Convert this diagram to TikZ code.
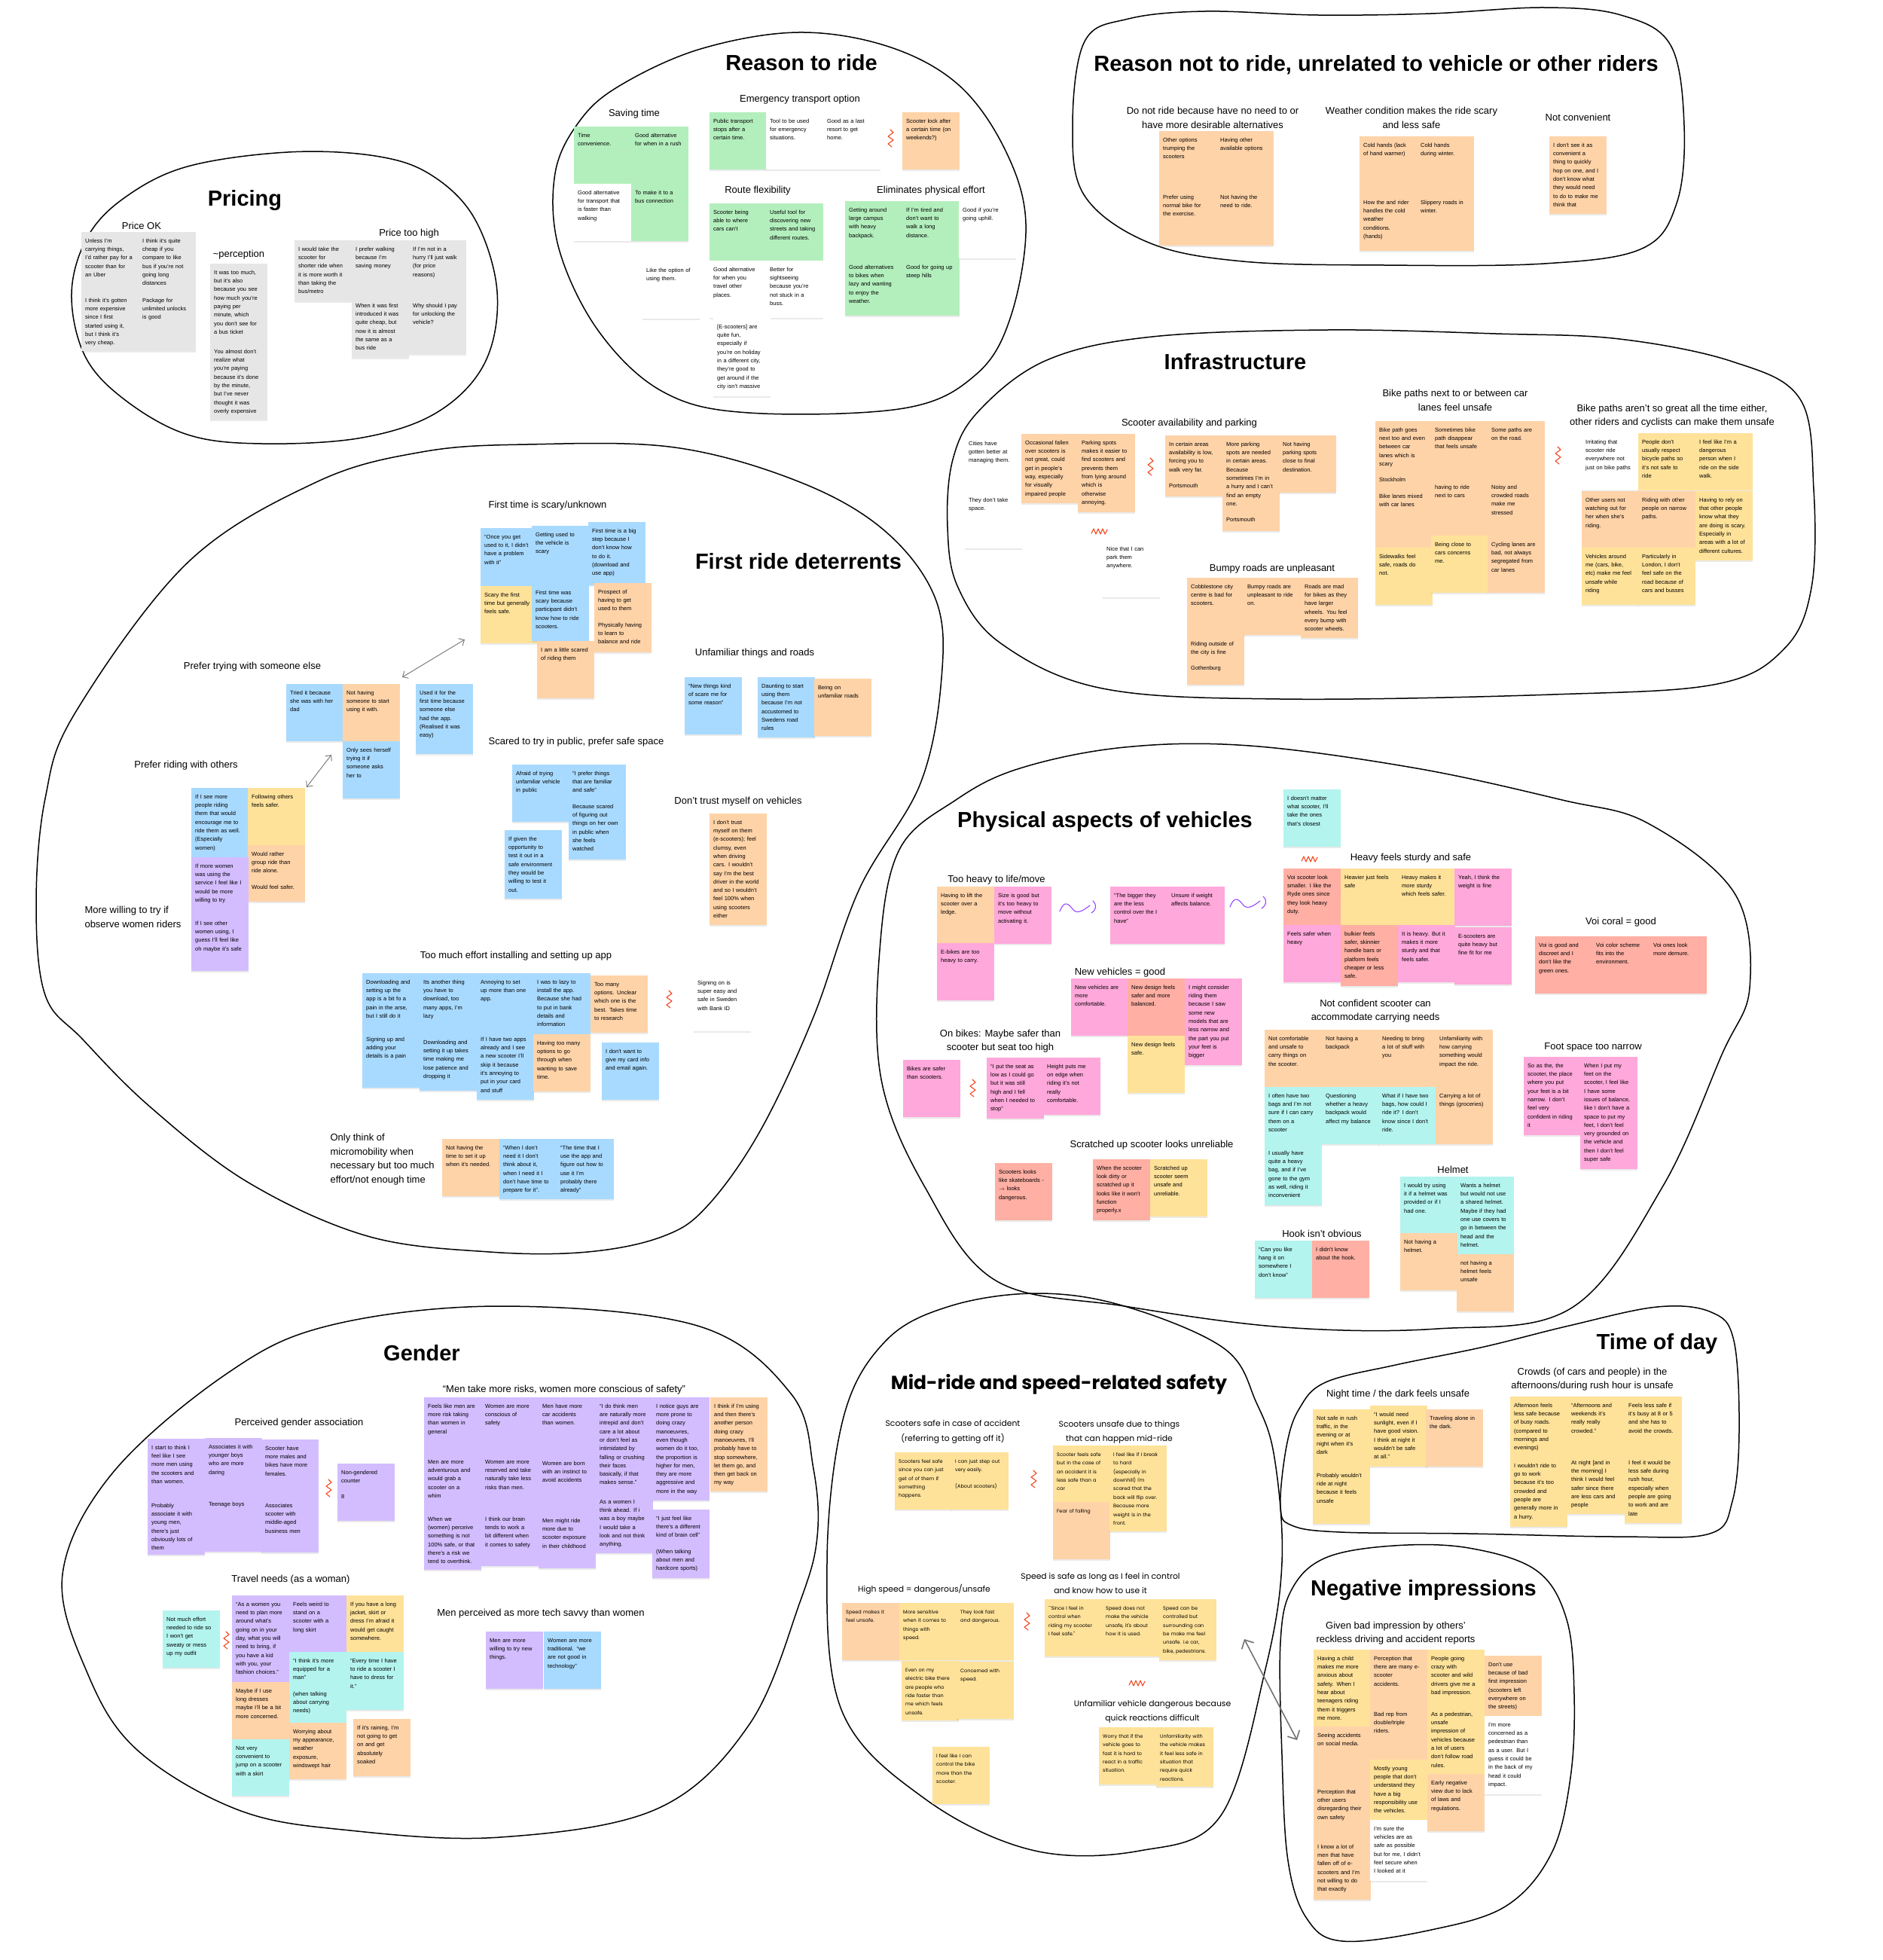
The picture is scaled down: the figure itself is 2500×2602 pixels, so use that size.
\documentclass[tikz,border=0pt]{standalone}
\usepackage{fontspec}
\setmainfont{Liberation Sans}
\newfontfamily\popfont{Poppins}
\usetikzlibrary{arrows.meta, shadows}

\definecolor{stgreen}{HTML}{B3EFBD}
\definecolor{storange}{HTML}{FFD3A8}
\definecolor{stgray}{HTML}{E6E6E6}
\definecolor{styellow}{HTML}{FFE299}
\definecolor{stblue}{HTML}{A8DAFF}
\definecolor{stpurple}{HTML}{D3BDFF}
\definecolor{stpink}{HTML}{FFA8DB}
\definecolor{stcoral}{HTML}{FFAFA3}
\definecolor{stteal}{HTML}{B3F4EF}
\definecolor{scribred}{HTML}{F24822}
\definecolor{scribpurple}{HTML}{9747FF}

\begin{document}
\begin{tikzpicture}[
        x=1pt, y=-1pt,
        blob/.style={draw=black, line width=1.5pt},
        ttl/.style={font=\fontsize{29}{34}\selectfont\bfseries},
        mttl/.style={font=\popfont\fontsize{25}{30}\selectfont\bfseries},
        sub/.style={font=\fontsize{13}{18.7}\selectfont, align=center},
        psub/.style={font=\popfont\fontsize{10.8}{19.4}\selectfont, align=center},
        note/.style={rectangle, anchor=north west, text width=66pt, inner xsep=5pt, inner ysep=7pt,
            text height=7pt, text depth=#1-21pt, align=left, font=\fontsize{7.5}{11.3}\selectfont,
            drop shadow={shadow xshift=0pt, shadow yshift=-1.3pt, opacity=0.16}},
        note/.default=76pt,
        pnote/.style={note=#1, font=\popfont\fontsize{6.5}{11.4}\selectfont},
        pnote/.default=76pt,
        link/.style={<->, >={Straight Barb[length=6pt, width=11pt]}, draw=black!55, line width=0.9pt},
        scribble/.style={draw=scribred, line width=1.1pt, line join=round, line cap=round},
        zigv/.pic={\draw[scribble] (0,0) -- (4,4) -- (-3,9) -- (4,14) -- (-3,19) -- (2,23);},
        zigw/.pic={\draw[scribble] (0,6) -- (3,0) -- (6,7) -- (9,0) -- (12,7) -- (15,0) -- (18,7) -- (21,1);},
        wave/.pic={\draw[scribble, draw=scribpurple] (0,10) .. controls (6,-6) and (12,0) .. (18,8) .. controls (24,14) and (32,8) .. (40,2);
                   \draw[scribble, draw=scribpurple] (44,-4) .. controls (50,2) and (48,8) .. (42,12);}
    ]
    \useasboundingbox (0,0) rectangle (2500,2602);
    \fill[white] (0,0) rectangle (2500,2602);

    % Group outlines
    \draw[blob] plot[smooth cycle, tension=0.6] coordinates {(95,390) (116,315) (166,262) (249,221) (382,202) (498,207) (572,232) (630,290) (660,387) (644,481) (581,547) (481,581) (348,589) (249,577) (166,531) (113,473)};
    \draw[blob] plot[smooth cycle, tension=0.6] coordinates {(1060,43) (1180,62) (1273,113) (1335,200) (1362,297) (1342,420) (1296,497) (1200,542) (994,548) (880,520) (795,440) (742,330) (737,230) (770,160) (824,113) (930,65)};
    \draw[blob] plot[smooth cycle, tension=0.6] coordinates {(1440,55) (1498,25) (1600,15) (1750,20) (1900,18) (2050,10) (2152,20) (2218,60) (2236,167) (2226,270) (2180,330) (2050,350) (1838,352) (1650,347) (1525,322) (1440,260) (1424,167)};
    \draw[blob] plot[smooth cycle, tension=0.6] coordinates {(1258,700) (1265,610) (1300,545) (1390,478) (1530,447) (1762,438) (1986,443) (2150,450) (2300,480) (2390,530) (2408,650) (2405,780) (2370,860) (2280,908) (2061,922) (1700,928) (1464,914) (1330,855) (1272,780)};
    \draw[blob] plot[smooth cycle, tension=0.6] coordinates {(100,946) (249,747) (420,640) (560,600) (700,590) (896,594) (1062,640) (1175,705) (1242,795) (1250,900) (1222,1040) (1141,1180) (1080,1350) (1010,1500) (940,1600) (881,1641) (780,1662) (650,1662) (488,1641) (330,1570) (200,1470) (110,1380) (60,1321) (48,1200) (60,1060)};
    \draw[blob] plot[smooth cycle, tension=0.6] coordinates {(1354,1020) (1493,992) (1659,990) (1881,1020) (2074,1062) (2188,1093) (2303,1186) (2323,1311) (2286,1400) (2207,1576) (2087,1736) (1908,1764) (1705,1762) (1493,1734) (1322,1700) (1228,1576) (1170,1433) (1168,1261) (1194,1128) (1269,1062)};
    \draw[blob] plot[smooth cycle, tension=0.6] coordinates {(149,1956) (299,1825) (436,1760) (664,1734) (926,1760) (1050,1850) (1080,1950) (1085,2040) (1062,2127) (995,2289) (873,2401) (664,2439) (465,2430) (317,2403) (182,2323) (116,2221) (83,2090)};
    \draw[blob] plot[smooth cycle, tension=0.6] coordinates {(1120,1881) (1176,1780) (1261,1734) (1377,1717) (1493,1734) (1625,1790) (1668,1862) (1692,1935) (1702,2074) (1680,2216) (1621,2410) (1513,2457) (1370,2456) (1228,2388) (1118,2272) (1098,2074)};
    \draw[blob] plot[smooth cycle, tension=0.6] coordinates {(1700,2000) (1708,1920) (1725,1870) (1760,1835) (1853,1812) (1970,1788) (2083,1760) (2200,1735) (2272,1742) (2302,1780) (2309,1900) (2300,1993) (2270,2036) (2150,2040) (1950,2036) (1780,2034) (1715,2025)};
    \draw[blob] plot[smooth cycle, tension=0.6] coordinates {(1700,2180) (1715,2110) (1760,2068) (1850,2052) (1950,2055) (2040,2085) (2080,2150) (2090,2250) (2085,2360) (2060,2460) (2000,2530) (1900,2562) (1783,2577) (1735,2547) (1710,2470) (1702,2330)};

    % Pricing
    \node[ttl] (pricing) at (325,266) {Pricing};
    \node[sub] (priceok) at (188,300) {Price OK};
    \node[sub] (perception) at (317,338) {\textasciitilde perception};
    \node[sub] (pricehigh) at (543,310) {Price too high};
    \node[note=79pt, fill=stgray] (p1) at (108,308) {Unless I'm\\carrying things,\\I'd rather pay for a\\scooter than for\\an Uber};
    \node[note=79pt, fill=stgray] (p2) at (108,387) {I think it's gotten\\more expensive\\since I first\\started using it,\\but I think it's\\very cheap.};
    \node[note=79pt, fill=stgray] (p3) at (184,308) {I think it's quite\\cheap if you\\compare to like\\bus if you're not\\going long\\distances};
    \node[note=79pt, fill=stgray] (p4) at (184,387) {Package for\\unlimited unlocks\\is good};
    \node[note=105pt, fill=stgray] (p5) at (279,350) {It was too much,\\but it's also\\because you see\\how much you're\\paying per\\minute, which\\you don't see for\\a bus ticket};
    \node[note=102pt, fill=stgray] (p6) at (279,455) {You almost don't\\realize what\\you're paying\\because it's done\\by the minute,\\but I've never\\thought it was\\overly expensive};
    \node[note=81pt, fill=stgray] (p7) at (391,319) {I would take the\\scooter for\\shorter ride when\\it is more worth it\\than taking the\\bus/metro};
    \node[note=75pt, fill=stgray] (p8) at (467,319) {I prefer walking\\because I'm\\saving money};
    \node[note=81pt, fill=stgray] (p9) at (467,394) {When it was first\\introduced it was\\quite cheap, but\\now it is almost\\the same as a\\bus ride};
    \node[note=75pt, fill=stgray] (p10) at (543,319) {If I'm not in a\\hurry I'll just walk\\(for price\\reasons)};
    \node[note, fill=stgray] (p11) at (543,394) {Why should I pay\\for unlocking the\\vehicle?};

    % Reason to ride
    \node[ttl] (rtr) at (1064,83) {Reason to ride};
    \node[sub] (saving) at (842,151) {Saving time};
    \node[sub] (emergency) at (1062,132) {Emergency transport option};
    \node[sub] (route) at (1006,253) {Route flexibility};
    \node[sub] (effort) at (1236,253) {Eliminates physical effort};
    \node[note, fill=stgreen] (r1) at (762,168) {Time\\convenience.};
    \node[note, fill=stgreen] (r2) at (838,168) {Good alternative\\for when in a rush};
    \node[note, fill=white] (r3) at (762,244) {Good alternative\\for transport that\\is faster than\\walking};
    \node[note, fill=stgreen] (r4) at (838,244) {To make it to a\\bus connection};
    \node[note, fill=white] (r5) at (853,347) {Like the option of\\using them.};
    \node[note, fill=stgreen] (r6) at (942,149) {Public transport\\stops after a\\certain time.};
    \node[note, fill=white] (r7) at (1017,149) {Tool to be used\\for emergency\\situations.};
    \node[note, fill=white] (r8) at (1093,149) {Good as a last\\resort to get\\home.};
    \node[note, fill=storange] (r9) at (1198,149) {Scooter lock after\\a certain time (on\\weekends?)};
    \node[note, fill=stgreen] (r10) at (942,270) {Scooter being\\able to where\\cars can't};
    \node[note, fill=stgreen] (r11) at (1017,270) {Useful tool for\\discovering new\\streets and taking\\different routes.};
    \node[note, fill=white] (r12) at (942,346) {Good alternative\\for when you\\travel other\\places.};
    \node[note, fill=white] (r13) at (1017,346) {Better for\\sightseeing\\because you're\\not stuck in a\\buss.};
    \node[note=104pt, fill=white] (r14) at (947,422) {[E-scooters] are\\quite fun,\\especially if\\you're on holiday\\in a different city,\\they're good to\\get around if the\\city isn't massive};
    \node[note, fill=stgreen] (r15) at (1122,267) {Getting around\\large campus\\with heavy\\backpack.};
    \node[note, fill=stgreen] (r16) at (1198,267) {If I'm tired and\\don't want to\\walk a long\\distance.};
    \node[note, fill=white] (r17) at (1273,267) {Good if you're\\going uphill.};
    \node[note, fill=stgreen] (r18) at (1122,343) {Good alternatives\\to bikes when\\lazy and wanting\\to enjoy the\\weather.};
    \node[note, fill=stgreen] (r19) at (1198,343) {Good for going up\\steep hills};
    \pic at (1182,172) {zigv};

    % Reason not to ride
    \node[ttl] (rnr) at (1827,86) {Reason not to ride, unrelated to vehicle or other riders};
    \node[sub] (noneed) at (1610,156) {Do not ride because have no need to or\\have more desirable alternatives};
    \node[sub] (weather) at (1874,156) {Weather condition makes the ride scary\\and less safe};
    \node[sub] (notconv) at (2095,156) {Not convenient};
    \node[note, fill=storange] (n1) at (1539,174) {Other options\\trumping the\\scooters};
    \node[note, fill=storange] (n2) at (1615,174) {Having other\\available options};
    \node[note, fill=storange] (n3) at (1539,250) {Prefer using\\normal bike for\\the exercise.};
    \node[note, fill=storange] (n4) at (1615,250) {Not having the\\need to ride.};
    \node[note, fill=storange] (n5) at (1805,181) {Cold hands (lack\\of hand warmer)};
    \node[note, fill=storange] (n6) at (1881,181) {Cold hands\\during winter.};
    \node[note, fill=storange] (n7) at (1805,257) {How the and rider\\handles the cold\\weather\\conditions.\\(hands)};
    \node[note, fill=storange] (n8) at (1881,257) {Slippery roads in\\winter.};
    \node[note=103pt, fill=storange] (n9) at (2057,181) {I don't see it as\\convenient a\\thing to quickly\\hop on one, and I\\don't know what\\they would need\\to do to make me\\think that};

    % Infrastructure
    \node[ttl] (infra) at (1640,480) {Infrastructure};
    \node[sub] (avail) at (1579,562) {Scooter availability and parking};
    \node[sub] (bikelanes) at (1932,531) {Bike paths next to or between car\\lanes feel unsafe};
    \node[sub] (otherriders) at (2220,552) {Bike paths aren't so great all the time either,\\other riders and cyclists can make them unsafe};
    \node[sub] (bumpy) at (1689,755) {Bumpy roads are unpleasant};
    \node[note, fill=white] (i1) at (1281,577) {Cities have\\gotten better at\\managing them.};
    \node[note, fill=white] (i2) at (1281,652) {They don't take\\space.};
    \node[note=92pt, fill=storange] (i3) at (1356,576) {Occasional fallen\\over scooters is\\not great, could\\get in people's\\way, especially\\for visually\\impaired people};
    \node[note=104pt, fill=storange] (i4) at (1431,576) {Parking spots\\makes it easier to\\find scooters and\\prevents them\\from lying around\\which is\\otherwise\\annoying.};
    \node[note=81pt, fill=storange] (i5) at (1547,578) {In certain areas\\availability is low,\\forcing you to\\walk very far.\\[10pt]Portsmouth};
    \node[note=127pt, fill=storange] (i6) at (1623,578) {More parking\\spots are needed\\in certain areas.\\Because\\sometimes I'm in\\a hurry and I can't\\find an empty\\one.\\[10pt]Portsmouth};
    \node[note, fill=storange] (i7) at (1698,578) {Not having\\parking spots\\close to final\\destination.};
    \node[note, fill=white] (i8) at (1464,717) {Nice that I can\\park them\\anywhere.};
    \node[note, fill=storange] (i9) at (1576,767) {Cobblestone city\\centre is bad for\\scooters.};
    \node[note=66pt, fill=storange] (i10) at (1576,843) {Riding outside of\\the city is fine\\[10pt]Gothenburg};
    \node[note, fill=storange] (i11) at (1651,767) {Bumpy roads are\\unpleasant to ride\\on.};
    \node[note=80pt, fill=storange] (i12) at (1727,767) {Roads are mad\\for bikes as they\\have larger\\wheels. You feel\\every bump with\\scooter wheels.};
    \node[note=168pt, fill=storange] (i13) at (1826,559) {Bike path goes\\next too and even\\between car\\lanes which is\\scary\\[10pt]Stockholm\\[10pt]Bike lanes mixed\\with car lanes};
    \node[note, fill=styellow] (i14) at (1826,727) {Sidewalks feel\\safe, roads do\\not.};
    \node[note, fill=storange] (i15) at (1900,559) {Sometimes bike\\path disappear\\that feels unsafe};
    \node[note, fill=storange] (i16) at (1900,635) {having to ride\\next to cars};
    \node[note, fill=styellow] (i17) at (1900,711) {Being close to\\cars concerns\\me.};
    \node[note, fill=storange] (i18) at (1975,559) {Some paths are\\on the road.};
    \node[note, fill=storange] (i19) at (1975,635) {Noisy and\\crowded roads\\make me\\stressed};
    \node[note, fill=storange] (i20) at (1975,711) {Cycling lanes are\\bad, not always\\segregated from\\car lanes};
    \node[note, fill=white] (i21) at (2100,575) {Irritating that\\scooter ride\\everywhere not\\just on bike paths};
    \node[note, fill=styellow] (i22) at (2175,575) {People don't\\usually respect\\bicycle paths so\\it's not safe to\\ride};
    \node[note, fill=styellow] (i23) at (2251,575) {I feel like I'm a\\dangerous\\person when I\\ride on the side\\walk.};
    \node[note, fill=storange] (i24) at (2100,652) {Other users not\\watching out for\\her when she's\\riding.};
    \node[note, fill=storange] (i25) at (2175,652) {Riding with other\\people on narrow\\paths.};
    \node[note=92pt, fill=styellow] (i26) at (2251,652) {Having to rely on\\that other people\\know what they\\are doing is scary.\\Especially in\\areas with a lot of\\different cultures.};
    \node[note, fill=styellow] (i27) at (2100,727) {Vehicles around\\me (cars, bike,\\etc) make me feel\\unsafe while\\riding};
    \node[note, fill=styellow] (i28) at (2175,727) {Particularly in\\London, I don't\\feel safe on the\\road because of\\cars and busses};
    \pic at (1527,608) {zigv};
    \pic at (1449,702) {zigw};
    \pic at (2068,593) {zigv};

    % First ride deterrents
    \node[ttl] (frd) at (1060,745) {First ride deterrents};
    \node[sub] (firsttime) at (727,671) {First time is scary/unknown};
    \node[sub] (someone) at (335,885) {Prefer trying with someone else};
    \node[sub] (unfamiliar) at (1002,867) {Unfamiliar things and roads};
    \node[sub] (public) at (765,985) {Scared to try in public, prefer safe space};
    \node[sub] (others) at (247,1016) {Prefer riding with others};
    \node[sub] (trust) at (980,1064) {Don't trust myself on vehicles};
    \node[sub, anchor=west, align=left] (women) at (109,1217) {More willing to try if\\observe women riders};
    \node[sub] (effortapp) at (685,1269) {Too much effort installing and setting up app};
    \node[sub, anchor=west, align=left] (onlythink) at (435,1539) {Only think of\\micromobility when\\necessary but too much\\effort/not enough time};
    \node[note=77pt, fill=stblue] (f1) at (638,701) {``Once you get\\used to it, I didn't\\have a problem\\with it''};
    \node[note=77pt, fill=stblue] (f2) at (706,698) {Getting used to\\the vehicle is\\scary};
    \node[note=84pt, fill=stblue] (f3) at (781,693) {First time is a big\\step because I\\don't know how\\to do it.\\(download and\\use app)};
    \node[note, fill=styellow] (f4) at (638,778) {Scary the first\\time but generally\\feels safe.};
    \node[note, fill=stblue] (f5) at (706,775) {First time was\\scary because\\participant didn't\\know how to ride\\scooters.};
    \node[note=92pt, fill=storange] (f6) at (789,774) {Prospect of\\having to get\\used to them\\[10pt]Physically having\\to learn to\\balance and ride};
    \node[note, fill=storange] (f7) at (713,851) {I am a little scared\\of riding them};
    \node[note, fill=stblue] (f8) at (380,908) {Tried it because\\she was with her\\dad};
    \node[note, fill=storange] (f9) at (455,908) {Not having\\someone to start\\using it with.};
    \node[note, fill=stblue] (f10) at (455,984) {Only sees herself\\trying it if\\someone asks\\her to};
    \node[note=93pt, fill=stblue] (f11) at (552,908) {Used it for the\\first time because\\someone else\\had the app.\\(Realised it was\\easy)};
    \node[note=92pt, fill=stblue] (f12) at (254,1046) {If I see more\\people riding\\them that would\\encourage me to\\ride them as well.\\(Especially\\women)};
    \node[note, fill=styellow] (f13) at (329,1046) {Following others\\feels safer.};
    \node[note=75pt, fill=storange] (f14) at (329,1122) {Would rather\\group ride than\\ride alone.\\[10pt]Would feel safer.};
    \node[note, fill=stpurple] (f15) at (254,1138) {If more women\\was using the\\service I feel like I\\would be more\\willing to try};
    \node[note=75pt, fill=stpurple] (f16) at (254,1214) {If I see other\\women using, I\\guess I'll feel like\\oh maybe it's safe};
    \node[note, fill=stblue] (f17) at (680,1015) {Afraid of trying\\unfamiliar vehicle\\in public};
    \node[note=126pt, fill=stblue] (f18) at (755,1015) {``I prefer things\\that are familiar\\and safe''\\[10pt]Because scared\\of figuring out\\things on her own\\in public when\\she feels\\watched};
    \node[note=91pt, fill=stblue] (f19) at (670,1102) {If given the\\opportunity to\\test it out in a\\safe environment\\they would be\\willing to test it\\out.};
    \node[note, fill=stblue] (f20) at (909,899) {``New things kind\\of scare me for\\some reason''};
    \node[note=80pt, fill=stblue] (f21) at (1006,899) {Daunting to start\\using them\\because I'm not\\accustomed to\\Swedens road\\rules};
    \node[note, fill=storange] (f22) at (1081,901) {Being on\\unfamiliar roads};
    \node[note=148pt, fill=storange] (f23) at (942,1080) {I don't trust\\myself on them\\(e-scooters); feel\\clumsy, even\\when driving\\cars. I wouldn't\\say I'm the best\\driver in the world\\and so I wouldn't\\feel 100\% when\\using scooters\\either};
    \node[note, fill=stblue] (f24) at (481,1292) {Downloading and\\setting up the\\app is a bit fo a\\pain in the arse,\\but I still do it};
    \node[note, fill=stblue] (f25) at (481,1368) {Signing up and\\adding your\\details is a pain};
    \node[note=80pt, fill=stblue] (f26) at (557,1292) {Its another thing\\you have to\\download, too\\many apps, I'm\\lazy};
    \node[note, fill=stblue] (f27) at (557,1372) {Downloading and\\setting it up takes\\time making me\\lose patience and\\dropping it};
    \node[note, fill=stblue] (f28) at (633,1292) {Annoying to set\\up more than one\\app.};
    \node[note=92pt, fill=stblue] (f29) at (633,1368) {If I have two apps\\already and I see\\a new scooter I'll\\skip it because\\it's annoying to\\put in your card\\and stuff};
    \node[note=81pt, fill=stblue] (f30) at (708,1292) {I was to lazy to\\install the app.\\Because she had\\to put in bank\\details and\\information};
    \node[note, fill=storange] (f31) at (708,1373) {Having too many\\options to go\\through when\\wanting to save\\time.};
    \node[note, fill=storange] (f32) at (784,1295) {Too many\\options. Unclear\\which one is the\\best. Takes time\\to research};
    \node[note, fill=stblue] (f33) at (799,1384) {I don't want to\\give my card info\\and email again.};
    \node[note, fill=white] (f34) at (921,1293) {Signing on is\\super easy and\\safe in Sweden\\with Bank ID};
    \node[note, fill=storange] (f35) at (587,1512) {Not having the\\time to set it up\\when it's needed.};
    \node[note=80pt, fill=stblue] (f36) at (663,1512) {``When I don't\\need it I don't\\think about it,\\when I need it I\\don't have time to\\prepare for it''.};
    \node[note=80pt, fill=stblue] (f37) at (739,1512) {``The time that I\\use the app and\\figure out how to\\use it I'm\\probably there\\already''};
    \coordinate (tryA) at (617,849);
    \coordinate (tryB) at (534,899);
    \coordinate (ridA) at (440,1002);
    \coordinate (ridB) at (407,1045);
    \draw[link] (tryA) -- (tryB);
    \draw[link] (ridA) -- (ridB);
    \pic at (888,1315) {zigv};

    % Physical aspects of vehicles
    \node[ttl] (phys) at (1467,1091) {Physical aspects of vehicles};
    \node[sub] (tooheavy) at (1323,1168) {Too heavy to life/move};
    \node[sub] (sturdy) at (1873,1139) {Heavy feels sturdy and safe};
    \node[sub] (voi) at (2152,1224) {Voi coral = good};
    \node[sub] (newveh) at (1487,1291) {New vehicles = good};
    \node[sub] (carry) at (1826,1342) {Not confident scooter can\\accommodate carrying needs};
    \node[sub] (onbikes) at (1328,1382) {On bikes: Maybe safer than\\scooter but seat too high};
    \node[sub] (foot) at (2115,1390) {Foot space too narrow};
    \node[sub] (scratched) at (1529,1520) {Scratched up scooter looks unreliable};
    \node[sub] (hook) at (1755,1638) {Hook isn't obvious};
    \node[sub] (helmet) at (1929,1553) {Helmet};
    \node[note, fill=stteal] (v1) at (1704,1048) {I doesn't matter\\what scooter, I'll\\take the ones\\that's closest};
    \node[note, fill=storange] (v2) at (1244,1177) {Having to lift the\\scooter over a\\ledge.};
    \node[note, fill=stpink] (v3) at (1320,1177) {Size is good but\\it's too heavy to\\move without\\activating it.};
    \node[note, fill=stpink] (v4) at (1244,1252) {E-bikes are too\\heavy to carry.};
    \node[note, fill=stpink] (v5) at (1474,1177) {``The bigger they\\are the less\\control over the I\\have''};
    \node[note, fill=stpink] (v6) at (1550,1177) {Unsure if weight\\affects balance.};
    \node[note, fill=stcoral] (v7) at (1704,1153) {Voi scooter look\\smaller. I like the\\Ryde ones since\\they look heavy\\duty.};
    \node[note, fill=styellow] (v8) at (1780,1153) {Heavier just feels\\safe};
    \node[note, fill=styellow] (v9) at (1856,1153) {Heavy makes it\\more sturdy\\which feels safer.};
    \node[note, fill=stpink] (v10) at (1931,1153) {Yeah, I think the\\weight is fine};
    \node[note, fill=stpink] (v11) at (1704,1228) {Feels safer when\\heavy};
    \node[note=81pt, fill=stcoral] (v12) at (1780,1228) {bulkier feels\\safer, skinnier\\handle bars or\\platform feels\\cheaper or less\\safe.};
    \node[note, fill=stpink] (v13) at (1856,1228) {It is heavy. But it\\makes it more\\sturdy and that\\feels safer.};
    \node[note, fill=stpink] (v14) at (1931,1231) {E-scooters are\\quite heavy but\\fine fit for me};
    \node[note, fill=stcoral] (v15) at (2038,1243) {Voi is good and\\discreet and I\\don't like the\\green ones.};
    \node[note, fill=stcoral] (v16) at (2114,1243) {Voi color scheme\\fits into the\\environment.};
    \node[note, fill=stcoral] (v17) at (2190,1243) {Voi ones look\\more demure.};
    \node[note, fill=stpink] (v18) at (1422,1299) {New vehicles are\\more\\comfortable.};
    \node[note, fill=stcoral] (v19) at (1497,1299) {New design feels\\safer and more\\balanced.};
    \node[note=115pt, fill=stpink] (v20) at (1573,1299) {I might consider\\riding them\\because I saw\\some new\\models that are\\less narrow and\\the part you put\\your feet is\\bigger};
    \node[note, fill=styellow] (v21) at (1497,1375) {New design feels\\safe.};
    \node[note, fill=storange] (v22) at (1679,1367) {Not comfortable\\and unsafe to\\carry things on\\the scooter.};
    \node[note, fill=storange] (v23) at (1755,1367) {Not having a\\backpack};
    \node[note, fill=storange] (v24) at (1830,1367) {Needing to bring\\a lot of stuff with\\you};
    \node[note, fill=storange] (v25) at (1906,1367) {Unfamiliarity with\\how carrying\\something would\\impact the ride.};
    \node[note, fill=stteal] (v26) at (1679,1443) {I often have two\\bags and I'm not\\sure if I can carry\\them on a\\scooter};
    \node[note, fill=stteal] (v27) at (1755,1443) {Questioning\\whether a heavy\\backpack would\\affect my balance};
    \node[note, fill=stteal] (v28) at (1830,1443) {What if I have two\\bags, how could I\\ride it? I don't\\know since I don't\\ride.};
    \node[note, fill=storange] (v29) at (1906,1443) {Carrying a lot of\\things (groceries)};
    \node[note=81pt, fill=stteal] (v30) at (1679,1519) {I usually have\\quite a heavy\\bag, and if I've\\gone to the gym\\as well, riding it\\inconvenient};
    \node[note=104pt, fill=stpink] (v31) at (2023,1403) {So as the, the\\scooter, the place\\where you put\\your feet is a bit\\narrow. I don't\\feel very\\confident in riding\\it};
    \node[note=149pt, fill=stpink] (v32) at (2098,1403) {When I put my\\feet on the\\scooter, I feel like\\I have some\\issues of balance,\\like I don't have a\\space to put my\\feet, I don't feel\\very grounded on\\the vehicle and\\then I don't feel\\super safe};
    \node[note, fill=stpink] (v33) at (1199,1407) {Bikes are safer\\than scooters.};
    \node[note=81pt, fill=stpink] (v34) at (1310,1404) {``I put the seat as\\low as I could go\\but it was still\\high and I fell\\when I needed to\\stop''};
    \node[note, fill=stpink] (v35) at (1385,1404) {Height puts me\\on edge when\\riding it's not\\really\\comfortable.};
    \node[note, fill=stcoral] (v36) at (1321,1544) {Scooters looks\\like skateboards -\\$\rightarrow$ looks\\dangerous.};
    \node[note=81pt, fill=stcoral] (v37) at (1451,1539) {When the scooter\\look dirty or\\scratched up it\\looks like it won't\\function\\properly.x};
    \node[note, fill=styellow] (v38) at (1527,1539) {Scratched up\\scooter seem\\unsafe and\\unreliable.};
    \node[note, fill=stteal] (v39) at (1666,1647) {``Can you like\\hang it on\\somewhere I\\don't know''};
    \node[note, fill=stcoral] (v40) at (1742,1647) {I didn't know\\about the hook.};
    \node[note, fill=stteal] (v41) at (1859,1562) {I would try using\\it if a helmet was\\provided or if I\\had one.};
    \node[note=103pt, fill=stteal] (v42) at (1934,1562) {Wants a helmet\\but would not use\\a shared helmet.\\Maybe if they had\\one use covers to\\go in between the\\head and the\\helmet.};
    \node[note, fill=storange] (v43) at (1859,1637) {Not having a\\helmet.};
    \node[note, fill=storange] (v44) at (1934,1665) {not having a\\helmet feels\\unsafe};
    \pic at (1728,1137) {zigw};
    \pic at (1407,1200) {wave};
    \pic at (1633,1194) {wave};
    \pic at (1291,1433) {zigv};

    % Gender
    \node[ttl] (gender) at (560,1796) {Gender};
    \node[sub] (assoc) at (397,1889) {Perceived gender association};
    \node[sub] (risks) at (749,1845) {``Men take more risks, women more conscious of safety''};
    \node[sub] (travel) at (386,2097) {Travel needs (as a woman)};
    \node[sub] (savvy) at (718,2142) {Men perceived as more tech savvy than women};
    \node[note=77pt, fill=stpurple] (g1) at (196,1910) {I start to think I\\feel like I see\\more men using\\the scooters and\\than women.};
    \node[note=77pt, fill=stpurple] (g2) at (272,1909) {Associates it with\\younger boys\\who are more\\daring};
    \node[note, fill=stpurple] (g3) at (347,1911) {Scooter have\\more males and\\bikes have more\\females.};
    \node[note=77pt, fill=stpurple] (g4) at (196,1987) {Probably\\associate it with\\young men,\\there's just\\obviously lots of\\them};
    \node[note=75pt, fill=stpurple] (g5) at (272,1985) {Teenage boys};
    \node[note=74pt, fill=stpurple] (g6) at (347,1987) {Associates\\scooter with\\middle-aged\\business men};
    \node[note, fill=stpurple] (g7) at (448,1943) {Non-gendered\\counter\\[10pt]8};
    \node[note=74pt, fill=stpurple] (g8) at (563,1855) {Feels like men are\\more risk taking\\than women in\\general};
    \node[note, fill=stpurple] (g9) at (563,1929) {Men are more\\adventurous and\\would grab a\\scooter on a\\whim};
    \node[note=79pt, fill=stpurple] (g10) at (563,2005) {When we\\(women) perceive\\something is not\\100\% safe, or that\\there's a risk we\\tend to overthink.};
    \node[note=74pt, fill=stpurple] (g11) at (639,1855) {Women are more\\conscious of\\safety};
    \node[note, fill=stpurple] (g12) at (639,1929) {Women are more\\reserved and take\\naturally take less\\risks than men.};
    \node[note=74pt, fill=stpurple] (g13) at (639,2005) {I think our brain\\tends to work a\\bit different when\\it comes to safety};
    \node[note, fill=stpurple] (g14) at (715,1855) {Men have more\\car accidents\\than women.};
    \node[note, fill=stpurple] (g15) at (715,1931) {Women are born\\with an instinct to\\avoid accidents};
    \node[note=75pt, fill=stpurple] (g16) at (715,2007) {Men might ride\\more due to\\scooter exposure\\in their childhood};
    \node[note=127pt, fill=stpurple] (g17) at (791,1855) {``I do think men\\are naturally more\\intrepid and don't\\care a lot about\\or don't feel as\\intimidated by\\falling or crushing\\their faces\\basically, if that\\makes sense.''};
    \node[note=80pt, fill=stpurple] (g18) at (791,1982) {As a women I\\think ahead. If i\\was a boy maybe\\I would take a\\look and not think\\anything.};
    \node[note=137pt, fill=stpurple] (g19) at (866,1855) {I notice guys are\\more prone to\\doing crazy\\manoeuvres,\\even though\\women do it too,\\the proportion is\\higher for men,\\they are more\\aggressive and\\more in the way};
    \node[note=91pt, fill=stpurple] (g20) at (866,2004) {``I just feel like\\there's a different\\kind of brain cell''\\[10pt](When talking\\about men and\\hardcore sports)};
    \node[note=125pt, fill=storange] (g21) at (943,1855) {I think if I'm using\\and then there's\\another person\\doing crazy\\manoeuvres, I'll\\probably have to\\stop somewhere,\\let them go, and\\then get back on\\my way};
    \node[note, fill=stteal] (g22) at (216,2138) {Not much effort\\needed to ride so\\I won't get\\sweaty or mess\\up my outfit};
    \node[note=115pt, fill=stpurple] (g23) at (308,2118) {``As a women you\\need to plan more\\around what's\\going on in your\\day, what you will\\need to bring, if\\you have a kid\\with you, your\\fashion choices.''};
    \node[note=75pt, fill=stpurple] (g24) at (384,2118) {Feels weird to\\stand on a\\scooter with a\\long skirt};
    \node[note=75pt, fill=styellow] (g25) at (460,2118) {If you have a long\\jacket, skirt or\\dress I'm afraid it\\would get caught\\somewhere.};
    \node[note, fill=storange] (g26) at (308,2233) {Maybe if I use\\long dresses\\maybe I'll be a bit\\more concerned.};
    \node[note=75pt, fill=stteal] (g27) at (308,2309) {Not very\\convenient to\\jump on a scooter\\with a skirt};
    \node[note=94pt, fill=stteal] (g28) at (384,2193) {``I think it's more\\equipped for a\\man''\\[10pt](when talking\\about carrying\\needs)};
    \node[note=77pt, fill=stteal] (g29) at (460,2193) {``Every time I have\\to ride a scooter I\\have to dress for\\it.''};
    \node[note=75pt, fill=storange] (g30) at (384,2287) {Worrying about\\my appearance,\\weather\\exposure,\\windswept hair};
    \node[note, fill=storange] (g31) at (469,2282) {If it's raining, I'm\\not going to get\\on and get\\absolutely\\soaked};
    \node[note, fill=stpurple] (g32) at (645,2166) {Men are more\\willing to try new\\things.};
    \node[note, fill=stblue] (g33) at (722,2166) {Women are more\\traditional. ``we\\are not good in\\technology''};
    \pic at (436,1964) {zigv};
    \pic at (300,2166) {zigv};

    % Mid-ride and speed-related safety
    \node[mttl] (midride) at (1406,1838) {Mid-ride and speed-related safety};
    \node[psub] (safeacc) at (1265,1901) {Scooters safe in case of accident\\(referring to getting off it)};
    \node[psub] (unsafemid) at (1486,1901) {Scooters unsafe due to things\\that can happen mid-ride};
    \node[psub] (highspeed) at (1227,2110) {High speed = dangerous/unsafe};
    \node[psub] (control) at (1461,2102) {Speed is safe as long as I feel in control\\and know how to use it};
    \node[psub] (reactions) at (1530,2272) {Unfamiliar vehicle dangerous because\\quick reactions difficult};
    \node[pnote, fill=styellow] (m1) at (1188,1928) {Scooters feel safe\\since you can just\\get of of them if\\something\\happens.};
    \node[pnote, fill=styellow] (m2) at (1263,1928) {I can just step out\\very easily.\\[10pt](About scooters)};
    \node[pnote, fill=styellow] (m3) at (1398,1919) {Scooter feels safe\\but in the case of\\an accident it is\\less safe than a\\car};
    \node[pnote, fill=storange] (m4) at (1398,1994) {Fear of falling};
    \node[pnote=114pt, fill=styellow] (m5) at (1473,1919) {I feel like if I break\\to hard\\(especially in\\downhill) I'm\\scared that the\\back will flip over.\\Because more\\weight is in the\\front.};
    \node[pnote, fill=storange] (m6) at (1118,2128) {Speed makes it\\feel unsafe.};
    \node[pnote, fill=styellow] (m7) at (1194,2128) {More sensitive\\when it comes to\\things with\\speed.};
    \node[pnote, fill=styellow] (m8) at (1270,2128) {They look fast\\and dangerous.};
    \node[pnote=79pt, fill=styellow] (m9) at (1197,2205) {Even on my\\electric bike there\\are people who\\ride faster than\\me which feels\\unsafe.};
    \node[pnote, fill=styellow] (m10) at (1270,2206) {Concerned with\\speed.};
    \node[pnote, fill=styellow] (m11) at (1238,2319) {I feel like I can\\control the bike\\more than the\\scooter.};
    \node[pnote, fill=styellow] (m12) at (1387,2123) {``Since I feel in\\control when\\riding my scooter\\I feel safe.''};
    \node[pnote, fill=styellow] (m13) at (1463,2123) {Speed does not\\make the vehicle\\unsafe, it's about\\how it is used.};
    \node[pnote=81pt, fill=styellow] (m14) at (1539,2123) {Speed can be\\controlled but\\surrounding can\\be make me feel\\unsafe. i.e car,\\bike, pedestrians.};
    \node[pnote, fill=styellow] (m15) at (1459,2293) {Worry that if the\\vehicle goes to\\fast it is hard to\\react in a traffic\\situation.};
    \node[pnote=79pt, fill=styellow] (m16) at (1535,2293) {Unfamiliarity with\\the vehicle makes\\it feel less safe in\\situation that\\require quick\\reactions.};
    \pic at (1372,1952) {zigv};
    \pic at (1363,2141) {zigv};
    \pic at (1499,2231) {zigw};

    % Time of day
    \node[ttl] (tod) at (2200,1784) {Time of day};
    \node[sub] (night) at (1856,1851) {Night time / the dark feels unsafe};
    \node[sub] (crowds) at (2114,1831) {Crowds (of cars and people) in the\\afternoons/during rush hour is unsafe};
    \node[note, fill=styellow] (t1) at (1743,1871) {Not safe in rush\\traffic, in the\\evening or at\\night when it's\\dark};
    \node[note, fill=styellow] (t2) at (1743,1947) {Probably wouldn't\\ride at night\\because it feels\\unsafe};
    \node[note=81pt, fill=styellow] (t3) at (1819,1866) {``I would need\\sunlight, even if I\\have good vision.\\I think at night it\\wouldn't be safe\\at all.''};
    \node[note, fill=storange] (t4) at (1893,1871) {Traveling alone in\\the dark.};
    \node[note=80pt, fill=styellow] (t5) at (2005,1854) {Afternoon feels\\less safe because\\of busy roads.\\(compared to\\mornings and\\evenings)};
    \node[note, fill=styellow] (t6) at (2081,1854) {``Afternoons and\\weekends it's\\really really\\crowded.''};
    \node[note, fill=styellow] (t7) at (2157,1854) {Feels less safe if\\it's busy at 8 or 5\\and she has to\\avoid the crowds.};
    \node[note=93pt, fill=styellow] (t8) at (2005,1934) {I wouldn't ride to\\go to work\\because it's too\\crowded and\\people are\\generally more in\\a hurry.};
    \node[note=80pt, fill=styellow] (t9) at (2081,1930) {At night [and in\\the morning] I\\think I would feel\\safer since there\\are less cars and\\people};
    \node[note=92pt, fill=styellow] (t10) at (2157,1930) {I feel it would be\\less safe during\\rush hour,\\especially when\\people are going\\to work and are\\late};

    % Negative impressions
    \node[ttl] (neg) at (1890,2111) {Negative impressions};
    \node[sub] (badimp) at (1853,2168) {Given bad impression by others'\\reckless driving and accident reports};
    \node[note=102pt, fill=styellow] (x1) at (1744,2190) {Having a child\\makes me more\\anxious about\\safety. When I\\hear about\\teenagers riding\\them it triggers\\me more.};
    \node[note=75pt, fill=storange] (x2) at (1744,2292) {Seeing accidents\\on social media.};
    \node[note=73pt, fill=storange] (x3) at (1744,2367) {Perception that\\other users\\disregarding their\\own safety};
    \node[note=82pt, fill=storange] (x4) at (1744,2440) {I know a lot of\\men that have\\fallen off of e-\\scooters and I'm\\not willing to do\\that exactly};
    \node[note=74pt, fill=storange] (x5) at (1819,2190) {Perception that\\there are many e-\\scooter\\accidents.};
    \node[note=72pt, fill=storange] (x6) at (1819,2264) {Bad rep from\\double/triple\\riders.};
    \node[note=80pt, fill=styellow] (x7) at (1819,2336) {Mostly young\\people that don't\\understand they\\have a big\\responsibility use\\the vehicles.};
    \node[note=81pt, fill=white] (x8) at (1819,2416) {I'm sure the\\vehicles are as\\safe as possible\\but for me, I didn't\\feel secure when\\I looked at it};
    \node[note=74pt, fill=styellow] (x9) at (1895,2190) {People going\\crazy with\\scooter and wild\\drivers give me a\\bad impression.};
    \node[note=91pt, fill=styellow] (x10) at (1895,2264) {As a pedestrian,\\unsafe\\impression of\\vehicles because\\a lot of users\\don't follow road\\rules.};
    \node[note, fill=storange] (x11) at (1895,2355) {Early negative\\view due to lack\\of laws and\\regulations.};
    \node[note=80pt, fill=storange] (x12) at (1971,2198) {Don't use\\because of bad\\first impression\\(scooters left\\everywhere on\\the streets)};
    \node[note=104pt, fill=white] (x13) at (1971,2278) {I'm more\\concerned as a\\pedestrian than\\as a user. But I\\guess it could be\\in the back of my\\head it could\\impact.};

    % Link between speed safety and impressions
    \coordinate (speedEnd) at (1652,2176);
    \coordinate (impEnd) at (1722,2310);
    \draw[link, line width=1.6pt, >={Straight Barb[length=9pt, width=18pt]}] (speedEnd) -- (impEnd);

\end{tikzpicture}
\end{document}
